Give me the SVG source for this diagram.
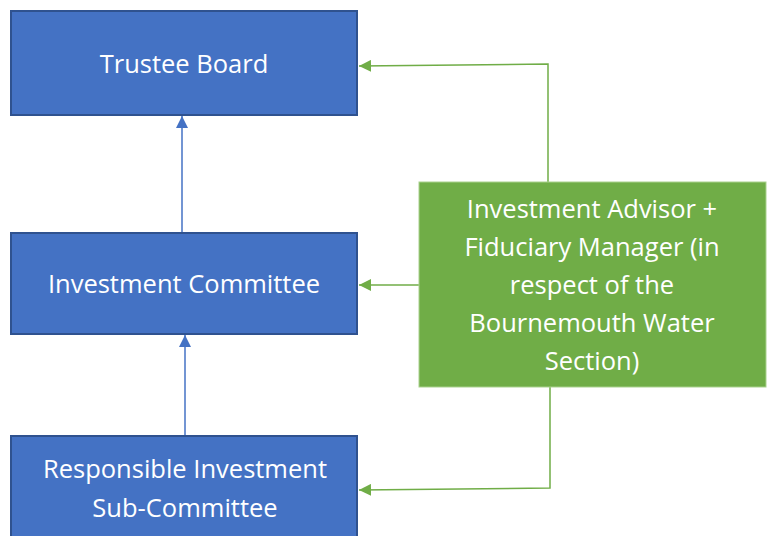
<svg xmlns="http://www.w3.org/2000/svg" width="770" height="536" viewBox="0 0 770 536">
  <style>
    .blue { fill: #4472C4; stroke: #2F528F; stroke-width: 2; }
    .green { fill: #70AD47; stroke: #A9D18E; stroke-width: 1; }
    .label { fill: #FFFFFF; font-family: "Open Sans", "Noto Sans", "Liberation Sans", sans-serif; font-size: 25.5px; text-anchor: middle; }
    .c-blue { stroke: #4472C4; stroke-width: 1.5; fill: none; }
    .c-green { stroke: #70AD47; stroke-width: 1.5; fill: none; }
  </style>
  <defs>
    <marker id="arrowBlue" viewBox="0 0 10 10" refX="10" refY="5" markerUnits="userSpaceOnUse" markerWidth="12" markerHeight="12" orient="auto">
      <path d="M0,0 L10,5 L0,10 Z" fill="#4472C4"/>
    </marker>
    <marker id="arrowGreen" viewBox="0 0 10 10" refX="10" refY="5" markerUnits="userSpaceOnUse" markerWidth="12" markerHeight="12" orient="auto">
      <path d="M0,0 L10,5 L0,10 Z" fill="#70AD47"/>
    </marker>
  </defs>

  <g id="connectors">
    <path class="c-blue" d="M182,232 L182,116" marker-end="url(#arrowBlue)"/>
    <path class="c-blue" d="M185,436 L185,335" marker-end="url(#arrowBlue)"/>
    <path class="c-green" d="M548,182 L548,64 L359,66" marker-end="url(#arrowGreen)"/>
    <path class="c-green" d="M419,285 L359,285" marker-end="url(#arrowGreen)"/>
    <path class="c-green" d="M550,387 L550,488 L359,490" marker-end="url(#arrowGreen)"/>
  </g>

  <g id="trustee-board">
    <rect class="blue" x="11" y="11" width="346" height="104"/>
    <text class="label" x="184" y="73">Trustee Board</text>
  </g>

  <g id="investment-committee">
    <rect class="blue" x="11" y="233" width="346" height="101"/>
    <text class="label" x="184" y="293">Investment Committee</text>
  </g>

  <g id="responsible-investment-sub-committee">
    <rect class="blue" x="11" y="436" width="346" height="110"/>
    <text class="label" x="185" y="478">Responsible Investment</text>
    <text class="label" x="185" y="517">Sub-Committee</text>
  </g>

  <g id="investment-advisor">
    <rect class="green" x="419" y="182" width="347" height="205"/>
    <text class="label" x="592" y="218">Investment Advisor +</text>
    <text class="label" x="592" y="256">Fiduciary Manager (in</text>
    <text class="label" x="592" y="294">respect of the</text>
    <text class="label" x="592" y="332">Bournemouth Water</text>
    <text class="label" x="592" y="370">Section)</text>
  </g>
</svg>
